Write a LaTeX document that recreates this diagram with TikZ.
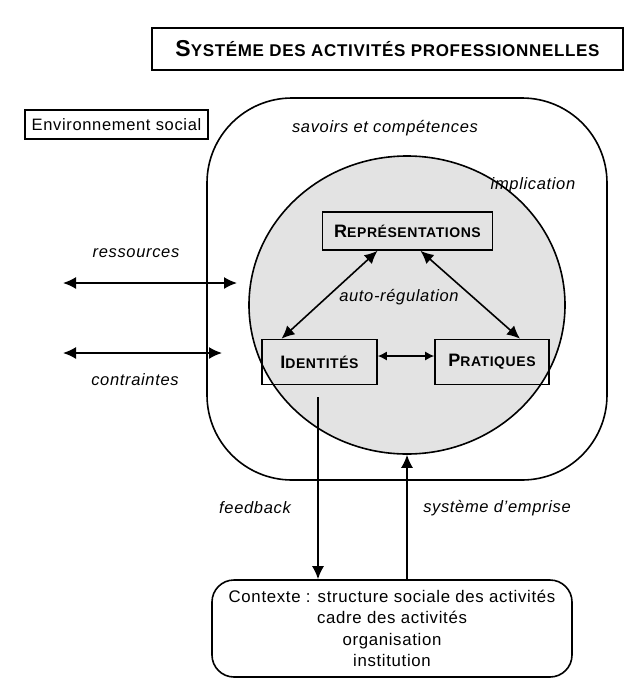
\documentclass[tikz,border=0pt]{standalone}
\usepackage{fontspec}
\setmainfont{Liberation Sans}[LetterSpace=4]
\usetikzlibrary{arrows.meta,shapes.geometric}
\newcommand\scw[4]{{\fontsize{#1}{#1}\selectfont #3}{\fontsize{#2}{#2}\selectfont #4}}
\tikzset{
  box/.style={draw, line width=1.6pt, inner sep=0pt},
  lab/.style={font=\fontsize{16.5pt}{16.5pt}\selectfont\itshape, inner sep=0pt},
  arr/.style={line width=1.6pt, -{Latex[length=13pt,width=12pt]}},
  darr/.style={line width=1.6pt, {Latex[length=13pt,width=12pt]}-{Latex[length=13pt,width=12pt]}},
  sdarr/.style={line width=1.3pt, {Latex[length=9pt,width=9pt]}-{Latex[length=9pt,width=9pt]}},
}
\begin{document}
\begin{tikzpicture}[x=1pt,y=-1pt]
\useasboundingbox (0,0) rectangle (641,681);
% title
\node[box, minimum width=471pt, minimum height=42pt] (title) at (387.5,49)
  {\bfseries\scw{23pt}{17pt}{S}{YSTÉME}\fontsize{17pt}{17pt}\selectfont\ DES ACTIVITÉS PROFESSIONNELLES};
% environnement
\node[box, minimum width=183pt, minimum height=29pt, font=\fontsize{16.5pt}{16.5pt}\selectfont] (env) at (116.5,124.5) {Environnement social};
% outer system
\node[draw, line width=1.6pt, rounded corners=85pt, minimum width=400pt, minimum height=382pt] (outer) at (407,289) {};
% inner circle
\node[ellipse, draw, line width=1.6pt, fill=black!11, minimum width=316pt, minimum height=298pt, inner sep=0pt] (circ) at (407,305) {};
% boxes
\node[box, minimum width=170pt, minimum height=38pt] (repr) at (407.5,231)
  {\bfseries\scw{18pt}{14pt}{R}{EPRÉSENTATIONS}};
\node[box, minimum width=115pt, minimum height=45pt] (ident) at (319.5,362)
  {\bfseries\scw{18pt}{14pt}{I}{DENTITÉS}};
\node[box, minimum width=114pt, minimum height=45pt] (prat) at (492,362)
  {\bfseries\scw{18pt}{14pt}{P}{RATIQUES}};
% context
\node[draw, line width=1.6pt, rounded corners=22pt, minimum width=360pt, minimum height=97pt, align=center,
  font=\fontsize{16.8pt}{21.5pt}\selectfont] (ctx) at (392,628.5)
  {Contexte : structure sociale des activités\\cadre des activités\\organisation\\institution};
% labels
\node[lab] (savoirs) at (385,128) {savoirs et compétences};
\node[lab] (impl) at (533,185) {implication};
\node[lab] (autoreg) at (399,297) {auto-régulation};
\node[lab] (ress) at (136,253) {ressources};
\node[lab] (contr) at (135,380) {contraintes};
\node[lab] (feed) at (255,508) {feedback};
\node[lab] (empr) at (497,508) {système d'emprise};
% triangle arrows
\draw[darr] ([xshift=-30pt]repr.south) -- ([xshift=-38pt]ident.north);
\draw[darr] ([xshift=13pt]repr.south) -- ([xshift=28pt]prat.north);
\draw[sdarr] ([yshift=6pt]ident.east) -- ([yshift=6pt]prat.west);
% left arrows
\coordinate (r1) at (63,283);
\coordinate (r2) at (237,283);
\coordinate (c1) at (63,353);
\coordinate (c2) at (222,353);
\draw[darr] (r1) -- (r2);
\draw[darr] (c1) -- (c2);
% vertical arrows
\coordinate (fbtop) at (318,397);
\draw[arr] (fbtop) -- (fbtop |- ctx.north);
\draw[arr] (ctx.north -| circ.south) -- (circ.south);
\end{tikzpicture}
\end{document}
